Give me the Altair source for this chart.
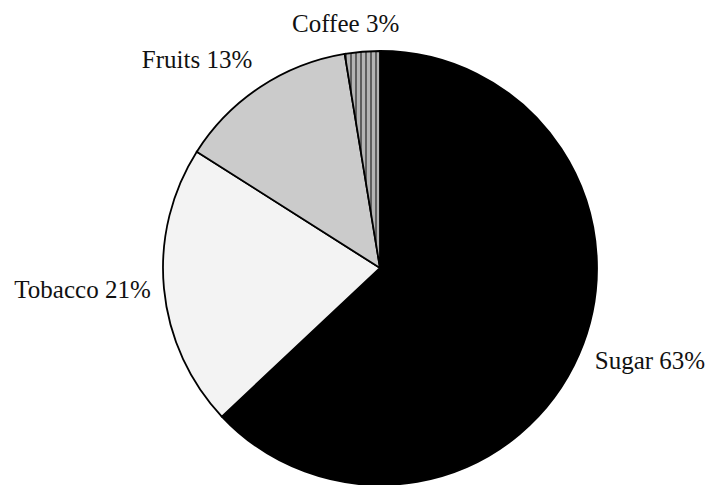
import math
import altair as alt
import pandas as pd

categories = ["Sugar", "Tobacco", "Fruits", "Coffee"]
shares = [63.0, 21.0, 13.4, 2.6]
labels = ["Sugar 63%", "Tobacco 21%", "Fruits 13%", "Coffee 3%"]

df = pd.DataFrame({"category": categories, "share": shares, "label": labels,
                   "order": list(range(len(categories)))})

CX, CY, R = 380, 268, 217
FONT = "Liberation Serif"

base = alt.Chart(df).transform_window(
    cum="sum(share)", sort=[alt.SortField("order")], frame=[None, 0]
).transform_calculate(
    start="datum.cum - datum.share",
    mid="datum.cum - datum.share / 2",
)

theta_scale = alt.Scale(domain=[0, 100], range=[0, 2 * math.pi])

# striped fill for coffee
stripe_stops = []
n = 14
for i in range(n):
    c = "#5e5e5e" if i % 2 == 0 else "#b4b4b4"
    stripe_stops.append(alt.GradientStop(offset=i / n, color=c))
    stripe_stops.append(alt.GradientStop(offset=(i + 1) / n, color=c))
stripes = alt.LinearGradient(gradient="linear", stops=stripe_stops, x1=0, x2=1, y1=0, y2=0)

fills = {"Sugar": "#000000", "Tobacco": "#f3f3f3", "Fruits": "#cbcbcb", "Coffee": stripes}

layers = []
for cat in categories:
    layers.append(
        base.transform_filter(alt.datum.category == cat).mark_arc(
            radius=R, fill=fills[cat], stroke="#000000", strokeWidth=1.8
        ).encode(
            theta=alt.Theta("start:Q", scale=theta_scale),
            theta2="cum:Q",
            x=alt.value(CX),
            y=alt.value(CY),
        )
    )

offsets = {"Sugar": (63.5, 11.7), "Tobacco": (-73.5, 9), "Fruits": (-58.8, -12.3), "Coffee": (-16, -12)}
for cat in categories:
    dx, dy = offsets[cat]
    layers.append(
        base.transform_filter(alt.datum.category == cat).mark_text(
            radius=225, font=FONT, fontSize=25, color="#111111",
            align="center", baseline="alphabetic", dx=dx, dy=dy
        ).encode(
            theta=alt.Theta("mid:Q", scale=theta_scale),
            text="label:N",
            x=alt.value(CX),
            y=alt.value(CY),
        )
    )

chart = alt.layer(*layers).properties(
    width=708, height=485, padding=0,
    autosize=alt.AutoSizeParams(type="none"),
    background="#ffffff",
).configure_view(stroke=None)

chart.save("out.html", embed_options={"renderer": "svg", "actions": False})
